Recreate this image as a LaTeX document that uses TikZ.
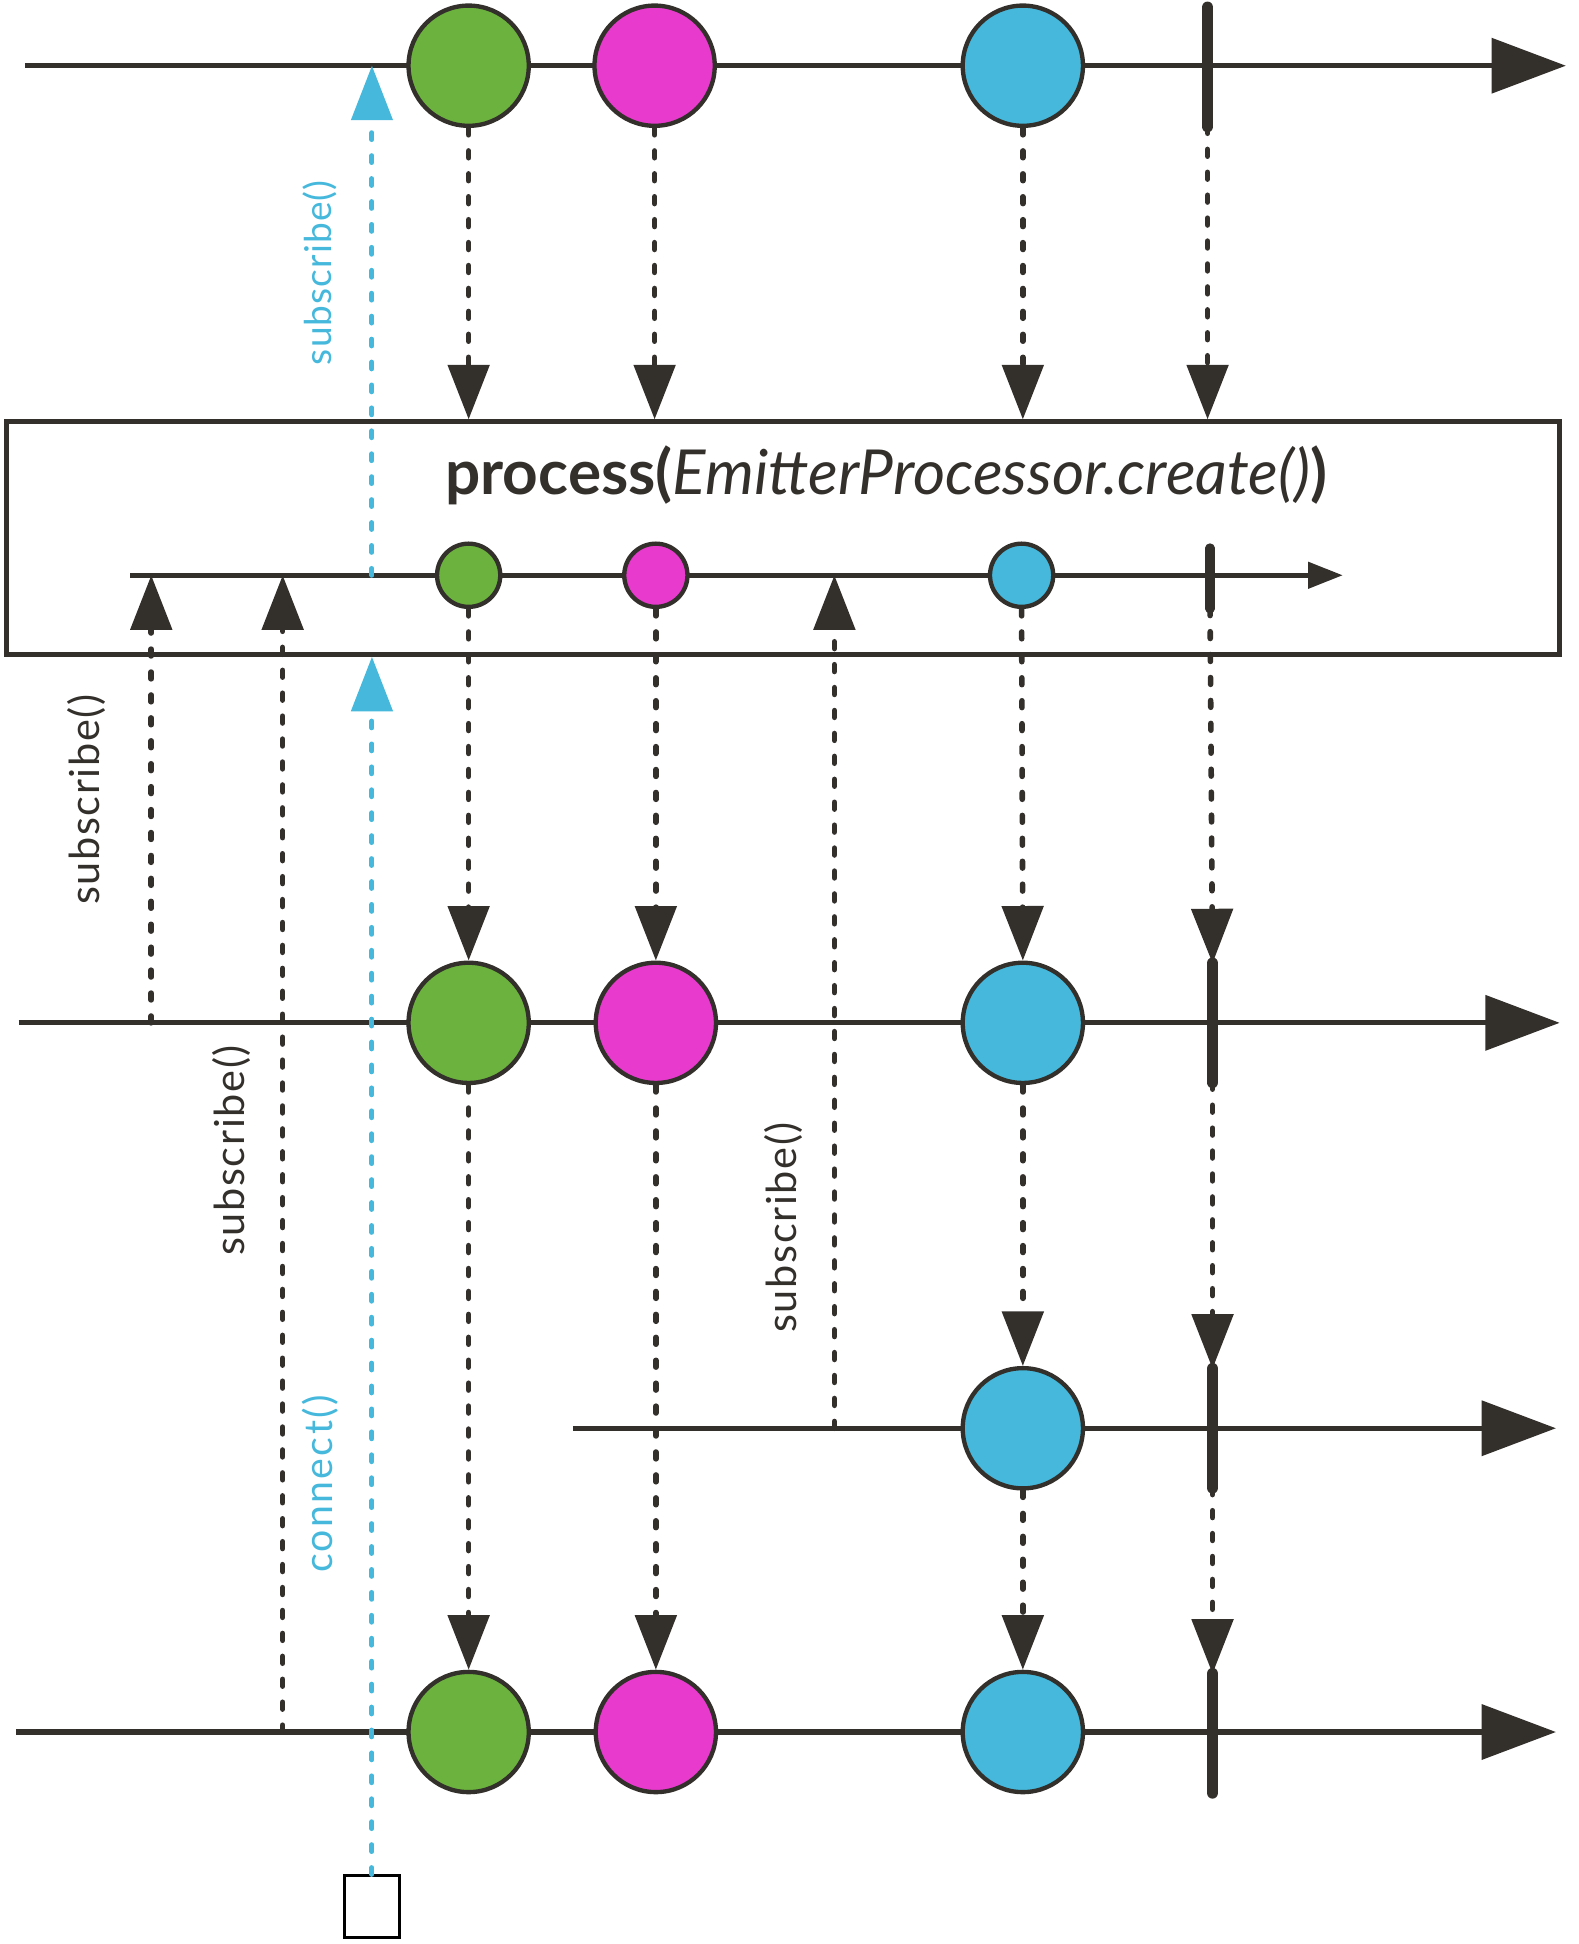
\documentclass[tikz,border=0pt]{standalone}
\usepackage{fontspec}
\setmainfont{Lato}
\usetikzlibrary{arrows.meta, positioning}
\definecolor{inkdark}{RGB}{51, 48, 44}
\definecolor{marblegreen}{RGB}{108, 178, 62}
\definecolor{marblepink}{RGB}{232, 58, 205}
\definecolor{marbleblue}{RGB}{69, 184, 220}

\begin{document}
\begin{tikzpicture}[
    x=0.02cm, y=-0.02cm,
    timeline/.style={draw=inkdark, line width=0.085cm,
                     -{Triangle[length=1.2cm, width=0.88cm]}},
    innerline/.style={draw=inkdark, line width=0.075cm,
                      -{Triangle[length=0.56cm, width=0.42cm]}},
    marble/.style={circle, draw=inkdark, line width=0.07cm,
                   minimum size=1.94cm, inner sep=0pt},
    smallmarble/.style={marble, minimum size=1.02cm},
    donebar/.style={draw=inkdark, line width=0.19cm, line cap=round},
    smallbar/.style={draw=inkdark, line width=0.15cm, line cap=round},
    flow/.style={draw=inkdark, line width=0.09cm, line cap=round,
                 dash pattern=on 0.11cm off 0.26cm,
                 -{Triangle[length=0.88cm, width=0.66cm]}},
    signal/.style={flow, draw=marbleblue, line width=0.08cm},
    callout/.style={rotate=90, text=inkdark,
                    font=\fontsize{19}{22}\selectfont\addfontfeature{LetterSpace=4}},
    signallabel/.style={callout, text=marbleblue,
                        font=\fontsize{17}{20}\selectfont\addfontfeature{LetterSpace=3}}
]
    \useasboundingbox (0,0) rectangle (1273,1568);

    % source
    \coordinate (s0) at (20,53);
    \coordinate (e0) at (1263,53);
    \draw[timeline] (s0) -- (e0);
    \node[marble, fill=marblegreen] (g0) at (378,53) {};
    \node[marble, fill=marblepink] (m0) at (528,53) {};
    \node[marble, fill=marbleblue] (b0) at (825,53) {};
    \coordinate (t0a) at (974,6);
    \coordinate (t0b) at (974,102);
    \draw[donebar] (t0a) -- (t0b);

    % processor
    \node[draw=inkdark, line width=0.07cm, minimum width=25.06cm,
          minimum height=3.76cm, inner sep=0pt] (box) at (631.5,434) {};
    \node[font=\fontsize{28.5}{33}\selectfont, text=inkdark] (title) at (715,383)
        {\textbf{process(}\textit{EmitterProcessor.create()}\textbf{)}};
    \coordinate (si) at (105,464);
    \coordinate (ei) at (1083,464);
    \draw[innerline] (si) -- (ei);
    \node[smallmarble, fill=marblegreen] (gi) at (378,464) {};
    \node[smallmarble, fill=marblepink] (mi) at (529,464) {};
    \node[smallmarble, fill=marbleblue] (bi) at (824,464) {};
    \coordinate (tia) at (976,442);
    \coordinate (tib) at (976,491);
    \draw[smallbar] (tia) -- (tib);

    % first subscriber
    \coordinate (s1) at (15,825);
    \coordinate (e1) at (1258,825);
    \draw[timeline] (s1) -- (e1);
    \node[marble, fill=marblegreen] (g1) at (378,825) {};
    \node[marble, fill=marblepink] (m1) at (529,825) {};
    \node[marble, fill=marbleblue] (b1) at (825,825) {};
    \coordinate (t1a) at (978,777);
    \coordinate (t1b) at (978,873);
    \draw[donebar] (t1a) -- (t1b);

    % late subscriber
    \coordinate (s2) at (462,1152);
    \coordinate (e2) at (1255,1152);
    \draw[timeline] (s2) -- (e2);
    \node[marble, fill=marbleblue] (b2) at (825,1152) {};
    \coordinate (t2a) at (978,1104);
    \coordinate (t2b) at (978,1200);
    \draw[donebar] (t2a) -- (t2b);

    % second subscriber
    \coordinate (s3) at (13,1397);
    \coordinate (e3) at (1255,1397);
    \draw[timeline] (s3) -- (e3);
    \node[marble, fill=marblegreen] (g3) at (378,1397) {};
    \node[marble, fill=marblepink] (m3) at (529,1397) {};
    \node[marble, fill=marbleblue] (b3) at (825,1397) {};
    \coordinate (t3a) at (978,1350);
    \coordinate (t3b) at (978,1446);
    \draw[donebar] (t3a) -- (t3b);

    % emissions
    \draw[flow] (g0.south) -- (g0.south |- box.north);
    \draw[flow] (m0.south) -- (m0.south |- box.north);
    \draw[flow] (b0.south) -- (b0.south |- box.north);
    \draw[flow] (t0b) -- (t0b |- box.north);
    \draw[flow] (gi.south) -- (g1.north);
    \draw[flow] (mi.south) -- (m1.north);
    \draw[flow] (bi.south) -- (b1.north);
    \draw[flow] (tib) -- (t1a);
    \draw[flow] (g1.south) -- (g3.north);
    \draw[flow] (m1.south) -- (m3.north);
    \draw[flow] (b1.south) -- (b2.north);
    \draw[flow] (t1b) -- (t2a);
    \draw[flow] (b2.south) -- (b3.north);
    \draw[flow] (t2b) -- (t3a);

    % subscriptions
    \coordinate (u1) at (122,825);
    \coordinate (u3) at (228,1397);
    \coordinate (u2) at (673,1152);
    \draw[flow] (u1) -- (u1 |- si);
    \draw[flow] (u3) -- (u3 |- si);
    \draw[flow] (u2) -- (u2 |- si);
    \node[callout] (sub1) at (70,645) {subscribe()};
    \node[callout] (sub3) at (187,928) {subscribe()};
    \node[callout] (sub2) at (632,990) {subscribe()};

    % upstream subscription and connect
    \coordinate (up) at (300,464);
    \draw[signal] (up) -- (up |- s0);
    \node[signallabel] (subup) at (258,220) {subscribe()};
    \node[draw=black, line width=0.045cm, minimum width=0.88cm,
          minimum height=1cm, inner sep=0pt] (sq) at (300,1538) {};
    \draw[signal] (sq.north) -- (sq.north |- box.south);
    \node[signallabel, font=\fontsize{18}{21}\selectfont\addfontfeature{LetterSpace=6}]
        (conn) at (258,1197) {connect()};
\end{tikzpicture}
\end{document}
